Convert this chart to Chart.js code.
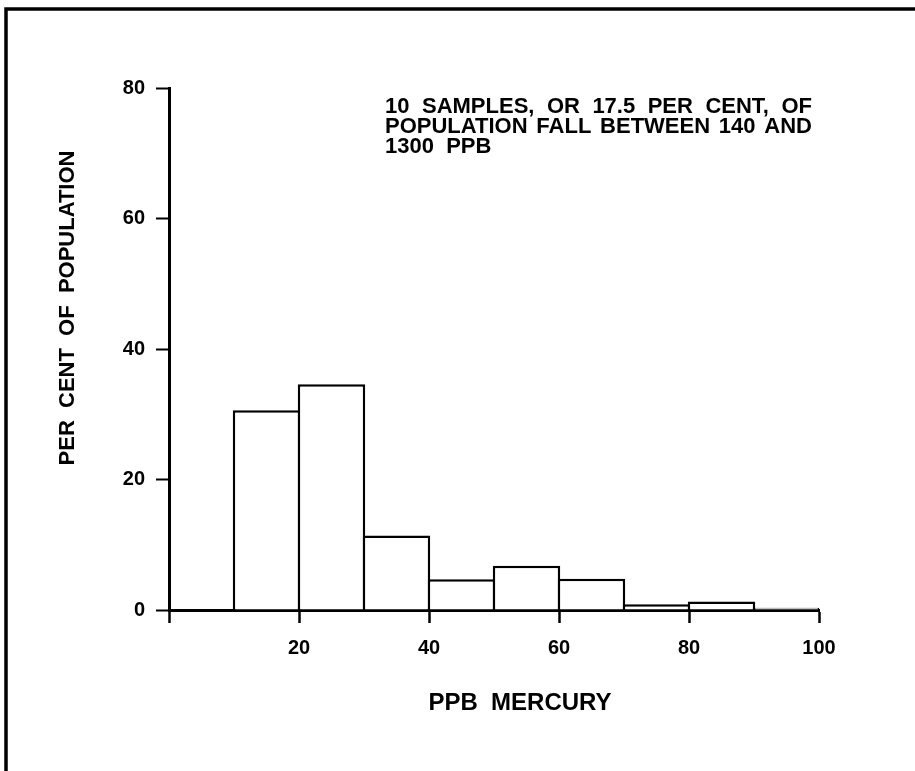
<!DOCTYPE html>
<html>
<head>
<meta charset="utf-8">
<script src="https://cdn.jsdelivr.net/npm/chart.js@4"></script>
<style>
  html, body { margin: 0; padding: 0; background: #fff; }
  #wrap { width: 915px; height: 771px; }
</style>
</head>
<body>
<div id="wrap"><canvas id="histo" width="915" height="771"></canvas></div>
<script>
// Histogram: mercury content (ppb) vs per cent of population
const binMids = [15, 25, 35, 45, 55, 65, 75, 85, 95]; // centres of the 10 ppb classes
const percents = [30.6, 34.6, 11.4, 4.7, 6.8, 4.8, 0.9, 1.3, 0.35];
const xTicks = [0, 20, 40, 60, 80, 100];
const yTicks = [0, 20, 40, 60, 80];
const xTitle = "PPB  MERCURY";
const yTitle = "PER  CENT  OF  POPULATION";
const noteLines = [
  "10 SAMPLES, OR 17.5 PER CENT, OF",
  "POPULATION FALL BETWEEN 140 AND",
  "1300 PPB",
];

const fontFam = "'Liberation Sans', Arial, Helvetica, sans-serif";

// marco, titulos y nota
const extras = {
  id: "extras",
  beforeDraw(chart) {
    const ctx = chart.ctx;
    ctx.save();
    ctx.fillStyle = "#fff";
    ctx.fillRect(0, 0, chart.width, chart.height);
    ctx.strokeStyle = "#000";
    ctx.lineWidth = 3.5;
    ctx.beginPath();
    ctx.moveTo(6, chart.height);
    ctx.lineTo(6, 9);
    ctx.lineTo(chart.width, 9);
    ctx.stroke();
    ctx.restore();
  },
  afterDraw(chart) {
    const ctx = chart.ctx;
    const area = chart.chartArea;
    ctx.save();
    ctx.fillStyle = "#000";

    // titulo eje y
    ctx.font = "bold 22px " + fontFam;
    ctx.textAlign = "center";
    ctx.textBaseline = "middle";
    ctx.translate(area.left - 101, area.top + 220);
    ctx.rotate(-Math.PI / 2);
    ctx.fillText(yTitle, 0, 0);
    ctx.setTransform(1, 0, 0, 1, 0, 0);

    // titulo eje x
    ctx.font = "bold 24px " + fontFam;
    ctx.fillText(xTitle, area.left + 351, area.bottom + 93);

    // nota (justificada)
    ctx.font = "bold 22px " + fontFam;
    ctx.textAlign = "left";
    ctx.textBaseline = "alphabetic";
    const x0 = area.left + 216;
    const lineW = 427;
    noteLines.forEach((line, i) => {
      const y = area.top + 25 + i * 20;
      const words = line.split(" ");
      if (i < noteLines.length - 1) {
        const wordsW = words.reduce((s, w) => s + ctx.measureText(w).width, 0);
        const gap = (lineW - wordsW) / (words.length - 1);
        let x = x0;
        words.forEach((w) => {
          ctx.fillText(w, x, y);
          x += ctx.measureText(w).width + gap;
        });
      } else {
        ctx.fillText(words.join("  "), x0, y);
      }
    });
    ctx.restore();
  },
};

const ctx = document.getElementById("histo").getContext("2d");
new Chart(ctx, {
  type: "bar",
  data: {
    datasets: [
      {
        data: binMids.map((m, i) => ({ x: m, y: percents[i] })),
        backgroundColor: "#fff",
        borderColor: "#000",
        borderWidth: 2.5,
        // un poco mas ancho para que los bordes vecinos se solapen en una sola linea
        barPercentage: 1.038,
        categoryPercentage: 1,
      },
    ],
  },
  options: {
    responsive: false,
    animation: false,
    events: [],
    layout: { padding: { left: 0, top: 88, right: 96, bottom: 0 } },
    plugins: {
      legend: { display: false },
      tooltip: { enabled: false },
    },
    scales: {
      x: {
        type: "linear",
        min: 0,
        max: 100,
        offset: false,
        afterBuildTicks: (scale) => {
          scale.ticks = xTicks.map((v) => ({ value: v }));
        },
        afterFit: (scale) => {
          scale.height = 771 - 610;
        },
        ticks: {
          color: "#000",
          font: { family: fontFam, size: 20, weight: "bold" },
          padding: 13,
          maxRotation: 0,
          callback: (v) => (v === 0 ? "" : v),
        },
        grid: {
          drawOnChartArea: false,
          drawTicks: true,
          tickLength: 13,
          tickWidth: 2.5,
          tickColor: "#000",
          offset: false,
        },
        border: { display: true, color: "#000", width: 3 },
      },
      y: {
        min: 0,
        max: 80,
        afterBuildTicks: (scale) => {
          scale.ticks = yTicks.map((v) => ({ value: v }));
        },
        afterFit: (scale) => {
          scale.width = 169;
        },
        ticks: {
          color: "#000",
          font: { family: fontFam, size: 20, weight: "bold" },
          padding: 11,
        },
        grid: {
          drawOnChartArea: false,
          drawTicks: true,
          tickLength: 13,
          tickWidth: 2,
          tickColor: "#000",
        },
        border: { display: true, color: "#000", width: 3 },
      },
    },
  },
  plugins: [extras],
});
</script>
</body>
</html>
